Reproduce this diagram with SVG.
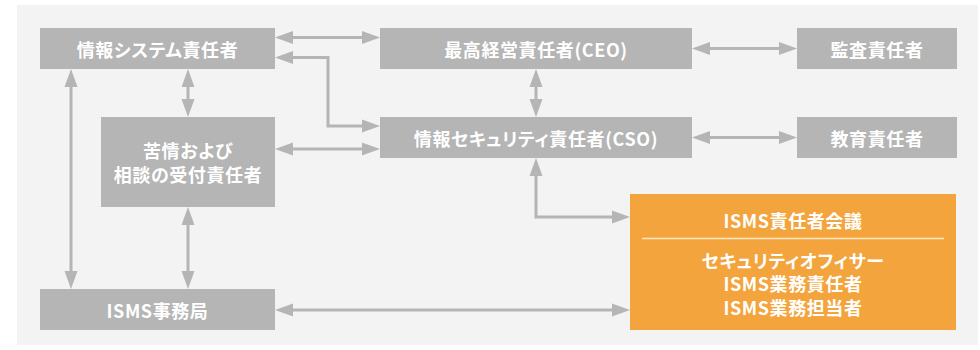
<svg xmlns="http://www.w3.org/2000/svg" width="980" height="350" viewBox="0 0 980 350">
<defs>
<style>
.bg{fill:#f3f3f3}
.box rect{fill:#b4b5b4}
.org rect{fill:#f4a43c}
text{fill:#ffffff;font-family:"Noto Sans CJK JP","Noto Sans",sans-serif;font-weight:700;font-size:18px;text-anchor:middle;dominant-baseline:central;font-feature-settings:"palt";letter-spacing:0.6px}
.sep{stroke:#fbe6c8;stroke-width:1.5}
.conn path{fill:none;stroke:#b4b5b4;stroke-width:3;marker-start:url(#ah);marker-end:url(#ah)}
</style>
<marker id="ah" markerUnits="userSpaceOnUse" markerWidth="18" markerHeight="14" viewBox="0 0 18 13" refX="0" refY="6.5" orient="auto-start-reverse">
<path d="M0,0 L18,6.5 L0,13 Z" fill="#b4b5b4"/>
</marker>
</defs>
<rect class="bg" x="17" y="5" width="961" height="340"/>
<g id="connectors" class="conn">
<path d="M293,37.5 H362"/>
<path d="M293,57.5 H328 V126 H362"/>
<path d="M293,149 H362"/>
<path d="M188,87 V99"/>
<path d="M71,87 V271"/>
<path d="M188,225 V271"/>
<path d="M536,87 V99"/>
<path d="M710,48.5 H779"/>
<path d="M710,137.5 H779"/>
<path d="M536,176 V217 H612"/>
<path d="M293,310 H612"/>
</g>
<g id="n-infosys" class="box"><rect x="40" y="28" width="235" height="41"/><text x="157.5" y="48.5">情報システム責任者</text></g>
<g id="n-ceo" class="box"><rect x="380" y="28" width="312" height="41"/><text x="536" y="48.5">最高経営責任者(CEO)</text></g>
<g id="n-audit" class="box"><rect x="797" y="28" width="160" height="41"/><text x="877" y="48.5">監査責任者</text></g>
<g id="n-complaint" class="box"><rect x="101" y="117" width="174" height="90"/><text x="188" y="150">苦情および</text><text x="188" y="174">相談の受付責任者</text></g>
<g id="n-cso" class="box"><rect x="380" y="117" width="312" height="41"/><text x="536" y="137.5">情報セキュリティ責任者(CSO)</text></g>
<g id="n-edu" class="box"><rect x="797" y="117" width="160" height="41"/><text x="877" y="137.5">教育責任者</text></g>
<g id="n-office" class="box"><rect x="40" y="289" width="235" height="41"/><text x="157.5" y="310">ISMS事務局</text></g>
<g id="n-council" class="org"><rect x="630" y="194" width="326" height="136"/><text x="793" y="220">ISMS責任者会議</text><line class="sep" x1="642" y1="238.5" x2="944" y2="238.5"/><text x="793" y="259.5">セキュリティオフィサー</text><text x="793" y="283">ISMS業務責任者</text><text x="793" y="306.5">ISMS業務担当者</text></g>
</svg>
